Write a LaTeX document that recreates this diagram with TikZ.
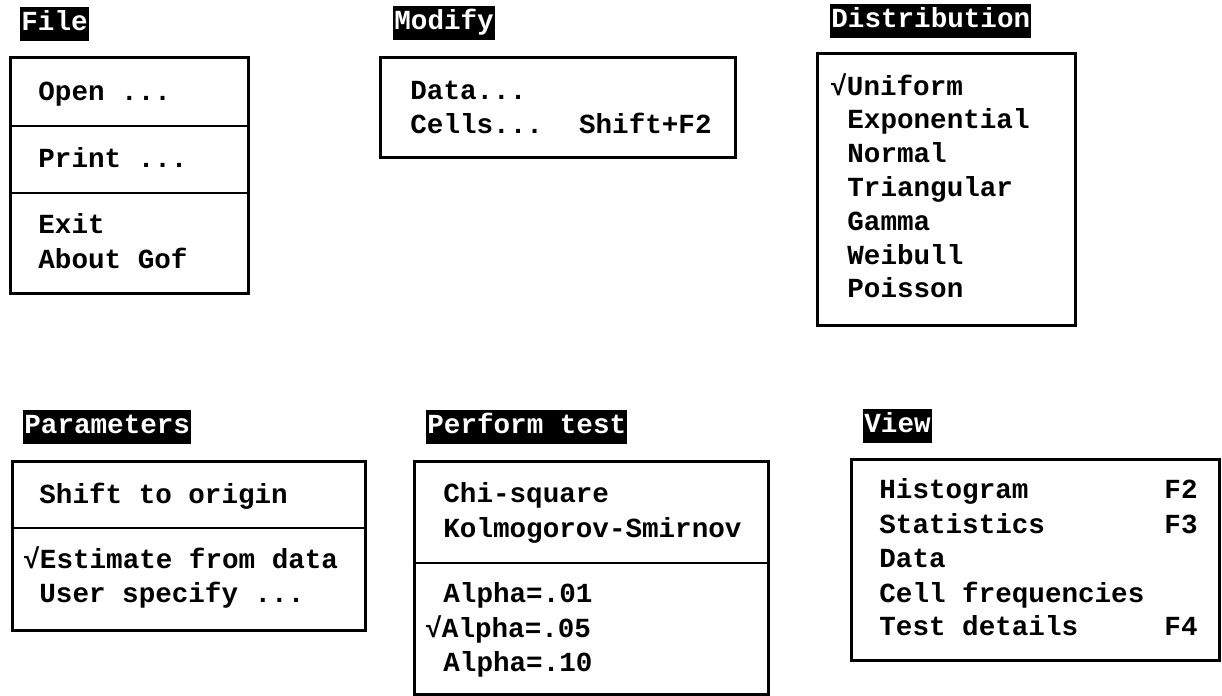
\documentclass[tikz,border=0pt]{standalone}
\usepackage{fontspec}
\setmonofont{Liberation Mono}
\usetikzlibrary{fit}

\begin{document}
\begin{tikzpicture}[x=0.5pt,y=-0.5pt]
    \tikzstyle{MenuTitle} = [
            fill=black,
            text=white,
            anchor=south west,
            inner xsep=0.5pt,
            inner ysep=0pt,
            minimum height=17pt,
            text height=9pt,
            text depth=2.5pt,
            font={\ttfamily\bfseries\fontsize{13.8}{17}\selectfont}
    ];
    \tikzstyle{Menu} = [
            draw=black,
            line width=1.5pt,
            rectangle,
            inner sep=0pt
    ];
    \tikzstyle{Sep} = [
            draw=black,
            line width=1pt
    ];
    \tikzstyle{Item} = [
            anchor=base west,
            inner sep=0pt,
            font={\ttfamily\bfseries\fontsize{13.8}{17}\selectfont}
    ];
    \tikzstyle{Key} = [
            Item,
            anchor=base east
    ];

    % File
    \useasboundingbox (0,0) rectangle (1222,696);
    \node[MenuTitle, name=FileTitle] at (20,41) {File};
    \node[Menu, fit={(10,57) (248,293)}, name=FileMenu] {};
    \draw[Sep] (FileMenu.west |- 0,126) -- (FileMenu.east |- 0,126);
    \draw[Sep] (FileMenu.west |- 0,193) -- (FileMenu.east |- 0,193);
    \node[Item, name=FileOpen]  at (38,100) {Open ...};
    \node[Item, name=FilePrint] at (38,167) {Print ...};
    \node[Item, name=FileExit]  at (38,233) {Exit};
    \node[Item, name=FileAbout] at (38,268) {About Gof};

    % Modify
    \node[MenuTitle, name=ModifyTitle] at (393,40) {Modify};
    \node[Menu, fit={(380,57) (735,157)}, name=ModifyMenu] {};
    \node[Item, name=ModData]  at (410,99)  {Data...};
    \node[Item, name=ModCells] at (410,133) {Cells...};
    \node[Key, name=ModCellsKey] at (712,133) {Shift+F2};

    % Distribution
    \node[MenuTitle, name=DistTitle] at (830,38) {Distribution};
    \node[Menu, fit={(817,53) (1075,325)}, name=DistMenu] {};
    \node[Item, name=DistUniform] at (830,95) {√Uniform};
    \foreach \lbl [count=\i] in {Exponential,Normal,Triangular,Gamma,Weibull,Poisson}
        \node[Item, name=Dist\i] at (847,95+33.8*\i) {\lbl};

    % Parameters
    \node[MenuTitle, name=ParTitle] at (23,444) {Parameters};
    \node[Menu, fit={(12,461) (365,630)}, name=ParMenu] {};
    \draw[Sep] (ParMenu.west |- 0,528) -- (ParMenu.east |- 0,528);
    \node[Item, name=ParShift]    at (39,503) {Shift to origin};
    \node[Item, name=ParEstimate] at (23,568) {√Estimate from data};
    \node[Item, name=ParUser]     at (39,602) {User specify ...};

    % Perform test
    \node[MenuTitle, name=TestTitle] at (426,444) {Perform test};
    \node[Menu, fit={(414,461) (768,694)}, name=TestMenu] {};
    \draw[Sep] (TestMenu.west |- 0,563) -- (TestMenu.east |- 0,563);
    \node[Item, name=TestChi] at (443,502) {Chi-square};
    \node[Item, name=TestKS]  at (443,537) {Kolmogorov-Smirnov};
    \node[Item, name=TestA01] at (443,602) {Alpha=.01};
    \node[Item, name=TestA05] at (425,637) {√Alpha=.05};
    \node[Item, name=TestA10] at (443,671) {Alpha=.10};

    % View
    \node[MenuTitle, name=ViewTitle] at (863,443) {View};
    \node[Menu, fit={(851,459) (1219,660)}, name=ViewMenu] {};
    \node[Item, name=ViewHist]  at (879,498) {Histogram};
    \node[Item, name=ViewStats] at (879,533) {Statistics};
    \node[Item, name=ViewData]  at (879,567) {Data};
    \node[Item, name=ViewCells] at (879,602) {Cell frequencies};
    \node[Item, name=ViewTest]  at (879,635) {Test details};
    \node[Key, name=ViewHistKey]  at (1198,498) {F2};
    \node[Key, name=ViewStatsKey] at (1198,533) {F3};
    \node[Key, name=ViewTestKey]  at (1198,635) {F4};
\end{tikzpicture}
\end{document}
